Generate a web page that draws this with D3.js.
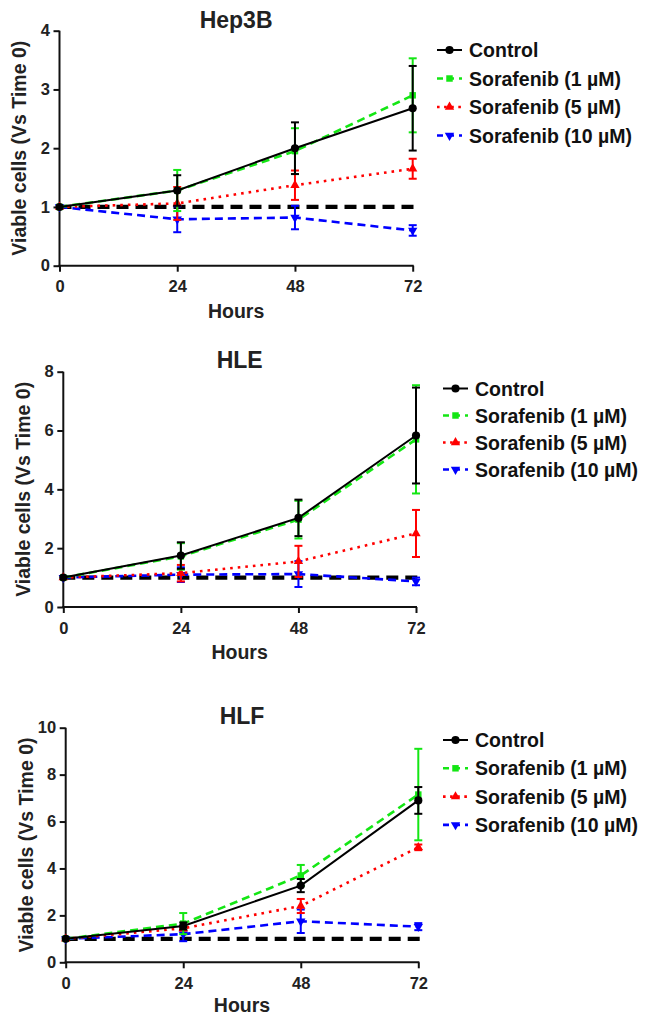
<!DOCTYPE html>
<html>
<head>
<meta charset="utf-8">
<script src="https://cdn.jsdelivr.net/npm/d3@7"></script>
<style>
  html, body { margin: 0; padding: 0; background: #fff; }
  svg { display: block; font-family: "Liberation Sans", Arial, sans-serif; font-weight: bold; }
</style>
</head>
<body>
<svg id="chart" width="648" height="1016"></svg>
<script>
// Time points (hours after treatment)
const hours = [0, 24, 48, 72];
const seriesNames = ["Control", "Sorafenib (1 µM)", "Sorafenib (5 µM)", "Sorafenib (10 µM)"];
const panelTitles = ["Hep3B", "HLE", "HLF"];
const xTicks = [0, 24, 48, 72];
const hep3bYTicks = [0, 1, 2, 3, 4];
const hleYTicks = [0, 2, 4, 6, 8];
const hlfYTicks = [0, 2, 4, 6, 8, 10];
// Time-0 reference level drawn as a dashed line across each panel
const baselineHours = [0, 73.5];
const baselineLevel = 1;

// Hep3B: mean viable cells relative to time 0, and error (SD)
const hep3bControl = [1, 1.28, 2.00, 2.68];
const hep3bControlErr = [0, 0.26, 0.44, 0.72];
const hep3bSora1 = [1, 1.28, 1.95, 2.90];
const hep3bSora1Err = [0, 0.35, 0.39, 0.63];
const hep3bSora5 = [1, 1.06, 1.37, 1.65];
const hep3bSora5Err = [0, 0.28, 0.25, 0.17];
const hep3bSora10 = [1, 0.79, 0.82, 0.60];
const hep3bSora10Err = [0, 0.22, 0.20, 0.09];

// HLE
const hleControl = [1, 1.75, 3.03, 5.83];
const hleControlErr = [0, 0.45, 0.62, 1.63];
const hleSora1 = [1, 1.72, 2.97, 5.70];
const hleSora1Err = [0, 0.45, 0.64, 1.84];
const hleSora5 = [1, 1.15, 1.55, 2.50];
const hleSora5Err = [0, 0.28, 0.53, 0.80];
const hleSora10 = [1, 1.10, 1.12, 0.87];
const hleSora10Err = [0, 0.25, 0.44, 0.13];

// HLF
const hlfControl = [1, 1.55, 3.27, 6.90];
const hlfControlErr = [0, 0.15, 0.28, 0.57];
const hlfSora1 = [1, 1.65, 3.70, 7.15];
const hlfSora1Err = [0, 0.45, 0.45, 1.95];
const hlfSora5 = [1, 1.45, 2.40, 4.90];
const hlfSora5Err = [0, 0.10, 0.30, 0.12];
const hlfSora10 = [1, 1.20, 1.75, 1.52];
const hlfSora10Err = [0, 0.30, 0.50, 0.15];

// Drawing styles for the four treatment groups
const styles = [
  { color: "#000000", dash: null, width: 2, symbol: d3.symbolCircle, size: 52, rot: 0 },
  { color: "#14e614", dash: "8,5", width: 2.6, symbol: d3.symbolSquare, size: 42, rot: 0 },
  { color: "#ff0000", dash: "2.6,5", width: 2.6, symbol: d3.symbolTriangle, size: 38, rot: 0 },
  { color: "#0000ff", dash: "8,5", width: 2.6, symbol: d3.symbolTriangle, size: 38, rot: 180 }
];

// Layout of each panel on the page
const panels = [
  { title: panelTitles[0], yMax: 4, yTicks: hep3bYTicks,
    means: [hep3bControl, hep3bSora1, hep3bSora5, hep3bSora10],
    errs: [hep3bControlErr, hep3bSora1Err, hep3bSora5Err, hep3bSora10Err],
    left: 59.5, right: 412.7, top: 30.7, bottom: 265.7,
    titleY: 28.3, hoursY: 317.7, ylabX: 26, legendX: 437, legendY: 50, legendStep: 28.5 },
  { title: panelTitles[1], yMax: 8, yTicks: hleYTicks,
    means: [hleControl, hleSora1, hleSora5, hleSora10],
    errs: [hleControlErr, hleSora1Err, hleSora5Err, hleSora10Err],
    left: 63.3, right: 416, top: 371.7, bottom: 607,
    titleY: 368.3, hoursY: 659.3, ylabX: 30, legendX: 443, legendY: 388.5, legendStep: 27 },
  { title: panelTitles[2], yMax: 10, yTicks: hlfYTicks,
    means: [hlfControl, hlfSora1, hlfSora5, hlfSora10],
    errs: [hlfControlErr, hlfSora1Err, hlfSora5Err, hlfSora10Err],
    left: 65.7, right: 418.3, top: 727.7, bottom: 962.3,
    titleY: 724, hoursY: 1012, ylabX: 33, legendX: 443, legendY: 740, legendStep: 28.3 }
];

const svg = d3.select("#chart");
const FONT = '"Liberation Sans", Arial, sans-serif';

function symbolPath(st) {
  return d3.symbol().type(st.symbol).size(st.size)();
}

panels.forEach(p => {
  const g = svg.append("g");
  const x = d3.scaleLinear().domain([0, 72]).range([p.left, p.right]);
  const y = d3.scaleLinear().domain([0, p.yMax]).range([p.bottom, p.top]);

  // Axes
  const xAxis = d3.axisBottom(x).tickValues(xTicks).tickFormat(d3.format("d"))
    .tickSize(6).tickSizeOuter(0).tickPadding(9);
  const yAxis = d3.axisLeft(y).tickValues(p.yTicks).tickFormat(d3.format("d"))
    .tickSize(6).tickSizeOuter(0).tickPadding(3.5);
  const gx = g.append("g").attr("transform", `translate(0,${p.bottom})`).call(xAxis);
  const gy = g.append("g").attr("transform", `translate(${p.left},0)`).call(yAxis);
  [gx, gy].forEach(a => {
    a.selectAll("path, line").attr("stroke", "#111").attr("stroke-width", 2);
    a.selectAll("text").attr("fill", "#222").style("font-size", "16.5px").style("font-weight", "bold")
      .style("font-family", FONT);
  });
  gx.select(".domain").attr("d", `M${p.left - 1},0H${p.right + 1}`);
  gy.select(".domain").attr("d", `M0,${p.top}V${p.bottom + 1}`);

  // Titles
  g.append("text").attr("x", (p.left + p.right) / 2).attr("y", p.titleY)
    .attr("text-anchor", "middle").style("font-size", "23px").attr("fill", "#222").text(p.title);
  g.append("text").attr("x", (p.left + p.right) / 2).attr("y", p.hoursY)
    .attr("text-anchor", "middle").style("font-size", "19.5px").attr("fill", "#222").text("Hours");
  g.append("text").attr("transform", `translate(${p.ylabX},${(p.top + p.bottom) / 2}) rotate(-90)`)
    .attr("text-anchor", "middle").style("font-size", "19.5px").attr("fill", "#222")
    .text("Viable cells (Vs Time 0)");

  // Reference level at time 0
  g.append("line")
    .attr("x1", x(baselineHours[0])).attr("x2", x(baselineHours[1]))
    .attr("y1", y(baselineLevel)).attr("y2", y(baselineLevel))
    .attr("stroke", "#000").attr("stroke-width", 4.2).attr("stroke-dasharray", "12,7");

  const line = d3.line().x((d, i) => x(hours[i])).y(d => y(d));

  // Series drawn from the last group to the first so Control sits on top
  [3, 2, 1, 0].forEach(si => {
    const st = styles[si];
    const m = p.means[si], e = p.errs[si];
    const sg = g.append("g");
    sg.append("path").datum(m).attr("d", line).attr("fill", "none")
      .attr("stroke", st.color).attr("stroke-width", st.width)
      .attr("stroke-dasharray", st.dash);
    // Error bars
    m.forEach((v, i) => {
      if (e[i] <= 0) return;
      const cx = x(hours[i]);
      const y1 = y(v - e[i]), y2 = y(v + e[i]);
      sg.append("line").attr("x1", cx).attr("x2", cx).attr("y1", y1).attr("y2", y2)
        .attr("stroke", st.color).attr("stroke-width", 2);
      [y1, y2].forEach(yy => sg.append("line").attr("x1", cx - 4).attr("x2", cx + 4)
        .attr("y1", yy).attr("y2", yy).attr("stroke", st.color).attr("stroke-width", 2));
    });
    // Markers
    sg.selectAll("path.mk").data(m).join("path").attr("class", "mk")
      .attr("d", symbolPath(st))
      .attr("transform", (d, i) => `translate(${x(hours[i])},${y(d)}) rotate(${st.rot})`)
      .attr("fill", st.color);
  });

  // Legend
  const lg = g.append("g");
  seriesNames.forEach((name, si) => {
    const st = styles[si];
    const ly = p.legendY + si * p.legendStep;
    lg.append("line").attr("x1", p.legendX).attr("x2", p.legendX + 25)
      .attr("y1", ly).attr("y2", ly).attr("stroke", st.color).attr("stroke-width", st.width)
      .attr("stroke-dasharray", st.dash ? (si === 2 ? "2.6,4.5" : "6,5") : null);
    lg.append("path").attr("d", symbolPath(st))
      .attr("transform", `translate(${p.legendX + 12.5},${ly}) rotate(${st.rot})`)
      .attr("fill", st.color);
    lg.append("text").attr("x", p.legendX + 32).attr("y", ly + 7)
      .style("font-size", "19.5px").attr("fill", "#111").text(name);
  });
});
</script>
</body>
</html>
